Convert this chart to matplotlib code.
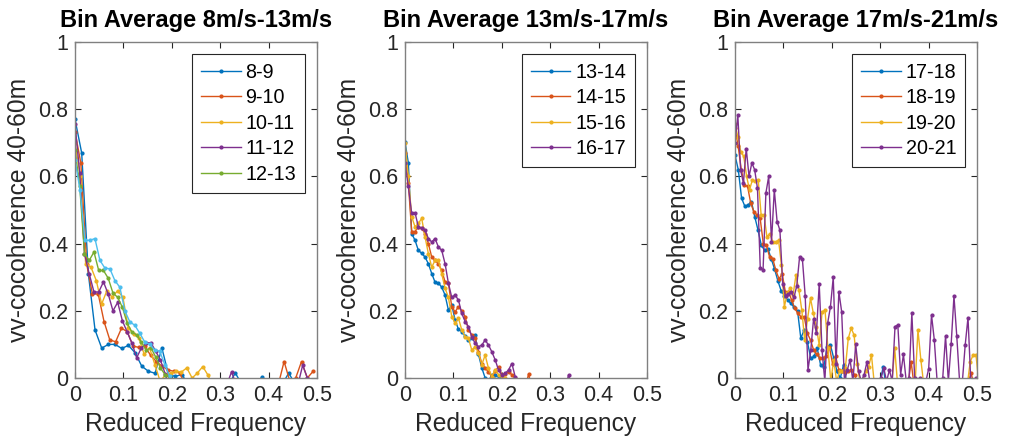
import matplotlib
matplotlib.use('Agg')
import matplotlib.pyplot as plt
import numpy as np
from matplotlib.ticker import MultipleLocator, FormatStrFormatter

plt.rcParams['font.family'] = ['Liberation Sans', 'DejaVu Sans']

# matlab default line colours
colors = ['#0072BD', '#D95319', '#EDB120', '#7E2F8E', '#77AC30', '#4DBEEE']

# ---- panel 1 : 8-13 m/s ----
step_8_9 = 0.0138
coh_8_9 = [0.77, 0.67, 0.31, 0.143, 0.089, 0.10, 0.10, 0.088, 0.097, 0.075, 0.035, 0.02,
           0.014, 0.09, 0.01, 0.005, 0.01, -0.02, -0.03, -0.03, -0.03, -0.03, -0.03, -0.02,
           0.015, -0.02, -0.03, -0.02, 0.003, -0.02, -0.03, -0.02, 0.015, -0.02, -0.03, -0.03, -0.03]
step_9_10 = 0.012
coh_9_10 = [0.733, 0.64, 0.34, 0.25, 0.25, 0.168, 0.113, 0.108, 0.148, 0.138, 0.095, 0.091,
            0.095, 0.068, 0.049, 0.035, 0.024, 0.02, 0.015, -0.02, -0.03, -0.03, -0.03, -0.03,
            -0.03, -0.03, -0.03, -0.03, -0.03, -0.03, -0.03, -0.03, -0.03, -0.03, -0.03, -0.02,
            0.049, -0.01, 0.0, 0.049, 0.0, 0.02]
step_10_11 = 0.011
coh_10_11 = [0.70, 0.60, 0.34, 0.33, 0.29, 0.22, 0.26, 0.24, 0.26, 0.24, 0.15, 0.13, 0.12,
             0.07, 0.09, 0.04, -0.01, 0.01, 0.015, 0.02, 0.018, 0.03, 0.0, 0.015, 0.034, 0.008, -0.03]
step_11_12 = 0.0098
coh_11_12 = [0.755, 0.61, 0.37, 0.31, 0.256, 0.256, 0.286, 0.25, 0.20, 0.225, 0.17, 0.137,
             0.104, 0.06, 0.09, 0.104, 0.105, 0.08, 0.054, 0.013, -0.03, -0.03, -0.03, -0.03,
             -0.03, -0.03, -0.03, -0.03, -0.03, -0.03, -0.03, -0.03, -0.02, 0.018, -0.02, -0.03,
             -0.03, -0.03, -0.03, -0.03, -0.03, -0.03, -0.03, -0.03, -0.03, -0.03, -0.03, -0.02,
             0.038, 0.0, -0.02]
step_12_13 = 0.0098
coh_12_13 = [0.68, 0.57, 0.37, 0.35, 0.375, 0.32, 0.32, 0.297, 0.253, 0.24, 0.21, 0.163,
             0.137, 0.128, 0.107, 0.083, 0.09, 0.063, 0.03, 0.01, 0.0, -0.03]
step_13_14a = 0.0103
coh_13_14a = [0.65, 0.56, 0.41, 0.41, 0.415, 0.35, 0.327, 0.325, 0.29, 0.27, 0.20, 0.167,
              0.157, 0.133, 0.107, 0.10, 0.083, 0.08, 0.04, 0.005, -0.03]

# ---- panel 2 : 13-17 m/s ----
step_p2 = 0.0069
coh_13_14 = [0.703, 0.64, 0.43, 0.41, 0.38, 0.371, 0.36, 0.34, 0.311, 0.285, 0.283, 0.27,
             0.247, 0.202, 0.217, 0.173, 0.145, 0.138, 0.125, 0.113, 0.118, 0.128, 0.07, 0.03,
             0.0, -0.01, 0.01, 0.009, 0.004, -0.03]
coh_14_15 = [0.67, 0.58, 0.436, 0.436, 0.45, 0.445, 0.43, 0.40, 0.36, 0.35, 0.34, 0.32,
             0.286, 0.282, 0.212, 0.197, 0.212, 0.20, 0.183, 0.143, 0.128, 0.118, 0.078, 0.043,
             0.03, 0.018, 0.004, 0.02, 0.034, 0.01, 0.012, 0.018, 0.01, 0.0, -0.03, -0.03, -0.03,
             0.012, -0.03]
coh_15_16 = [0.70, 0.60, 0.48, 0.45, 0.46, 0.475, 0.42, 0.37, 0.33, 0.35, 0.35, 0.31, 0.267,
             0.24, 0.183, 0.163, 0.178, 0.143, 0.123, 0.118, 0.083, 0.093, 0.075, 0.04, 0.068,
             0.029, 0.004, 0.025, 0.01, 0.005, 0.0, -0.03]
coh_16_17 = [0.64, 0.57, 0.49, 0.492, 0.45, 0.445, 0.44, 0.415, 0.405, 0.415, 0.39, 0.38,
             0.34, 0.282, 0.24, 0.247, 0.232, 0.192, 0.168, 0.153, 0.123, 0.103, 0.093, 0.098,
             0.113, 0.098, 0.078, 0.054, 0.024, 0.009, 0.014, 0.024, 0.043, 0.004, -0.03, -0.03,
             -0.03, -0.03, -0.03, -0.03, -0.03, -0.03, -0.03, -0.03, -0.03, -0.03, -0.03, -0.03,
             -0.03, 0.01, -0.03]

# ---- panel 3 : 17-21 m/s ----
step_17_18 = 0.0068
coh_17_18 = [0.663, 0.62, 0.535, 0.511, 0.515, 0.525, 0.48, 0.44, 0.395, 0.38, 0.385, 0.355,
             0.325, 0.29, 0.26, 0.245, 0.232, 0.222, 0.21, 0.20, 0.118, 0.143, 0.108, 0.059,
             0.064, 0.088, 0.039, 0.034, 0.093, 0.098, 0.059, 0.02, 0.0, 0.04, -0.02, -0.03,
             -0.03, -0.03, -0.03, -0.03, -0.03, -0.03, -0.03, -0.03, -0.02, 0.034, -0.03]
step_18_19 = 0.0065
coh_18_19 = [0.743, 0.69, 0.62, 0.575, 0.57, 0.52, 0.495, 0.485, 0.475, 0.40, 0.395, 0.36,
             0.355, 0.32, 0.295, 0.31, 0.257, 0.257, 0.232, 0.207, 0.192, 0.182, 0.182, 0.133,
             0.113, 0.083, 0.07, 0.059, 0.06, 0.064, 0.093, 0.043, 0.064, 0.024, 0.02, 0.019,
             0.02, 0.024, 0.01, -0.02, -0.03, -0.03, -0.03, -0.03, -0.03, -0.03, -0.03, -0.03,
             -0.03, -0.03, -0.03, -0.03, -0.03, -0.03, -0.03, -0.02, 0.048, -0.03, -0.03, -0.03,
             -0.03, -0.03, -0.03, -0.03, -0.03, -0.03, -0.03, -0.03, -0.03, -0.03, -0.03, -0.03,
             -0.03, -0.03, -0.02, 0.015, -0.02]
step_19_20 = 0.006
coh_19_20 = [0.755, 0.718, 0.673, 0.66, 0.60, 0.56, 0.59, 0.585, 0.59, 0.485, 0.485, 0.42,
             0.43, 0.405, 0.405, 0.41, 0.336, 0.212, 0.252, 0.267, 0.247, 0.307, 0.262, 0.202,
             0.113, 0.177, 0.237, 0.192, 0.153, 0.098, 0.197, 0.202, 0.088, -0.01, 0.054, -0.01,
             0.02, 0.02, 0.03, 0.118, 0.148, 0.128, 0.043, -0.01, -0.01, 0.02, 0.034, 0.068,
             -0.02, -0.02, -0.02, -0.02, -0.02, -0.02, -0.02, 0.088, -0.02, -0.02, -0.02, -0.02,
             -0.02, -0.02, -0.02, 0.143, 0.054, -0.02, -0.02, -0.02, -0.02, -0.02, -0.02, -0.02,
             -0.02, -0.02, -0.02, -0.02, -0.02, -0.02, -0.02, -0.02, -0.02, 0.049, 0.068, 0.068,
             -0.02]
step_20_21 = 0.0058
coh_20_21 = [0.70, 0.783, 0.62, 0.58, 0.683, 0.60, 0.64, 0.62, 0.565, 0.327, 0.322, 0.55,
             0.60, 0.405, 0.56, 0.465, 0.44, 0.28, 0.245, 0.25, 0.255, 0.24, 0.274, 0.36, 0.355,
             0.245, 0.024, 0.083, 0.177, 0.133, 0.28, 0.083, -0.01, 0.163, 0.212, 0.30, 0.043,
             0.257, 0.197, -0.01, 0.024, 0.054, -0.01, 0.10, 0.02, -0.01, 0.01, 0.048, -0.01,
             -0.01, -0.01, -0.01, 0.0, 0.03, -0.01, 0.024, -0.01, 0.153, 0.158, 0.01, 0.07,
             -0.01, 0.0, 0.193, 0.0, -0.01, 0.0, -0.01, -0.01, 0.028, 0.188, 0.113, -0.01,
             -0.01, 0.0, 0.125, -0.01, 0.10, 0.244, 0.125, -0.01, -0.01, 0.098, 0.18, -0.01,
             -0.01, 0.0]

panels = [
    ('Bin Average 8m/s-13m/s',
     [('8-9', step_8_9, coh_8_9), ('9-10', step_9_10, coh_9_10),
      ('10-11', step_10_11, coh_10_11), ('11-12', step_11_12, coh_11_12),
      ('12-13', step_12_13, coh_12_13), (None, step_13_14a, coh_13_14a)]),
    ('Bin Average 13m/s-17m/s',
     [('13-14', step_p2, coh_13_14), ('14-15', step_p2, coh_14_15),
      ('15-16', step_p2, coh_15_16), ('16-17', step_p2, coh_16_17)]),
    ('Bin Average 17m/s-21m/s',
     [('17-18', step_17_18, coh_17_18), ('18-19', step_18_19, coh_18_19),
      ('19-20', step_19_20, coh_19_20), ('20-21', step_20_21, coh_20_21)]),
]

fig = plt.figure(figsize=(10.1, 4.46), dpi=100)
lefts = [75, 405, 735]

for k, (title, series) in enumerate(panels):
    ax = fig.add_axes([lefts[k] / 1010, 68 / 446, 242 / 1010, 336 / 446])
    for j, (lab, step, vals) in enumerate(series):
        x = step * np.arange(len(vals))
        ax.plot(x, vals, '.-', color=colors[j], lw=1.0, ms=4, label=lab)
    ax.set_xlim(0, 0.5)
    ax.set_ylim(0, 1)
    ax.xaxis.set_major_locator(MultipleLocator(0.1))
    ax.yaxis.set_major_locator(MultipleLocator(0.2))
    ax.xaxis.set_major_formatter(FormatStrFormatter('%g'))
    ax.yaxis.set_major_formatter(FormatStrFormatter('%g'))
    ax.tick_params(direction='in', top=True, right=True, length=4, width=0.8,
                   color='#262626', labelcolor='#262626', labelsize=15.5, pad=5)
    for s in ax.spines.values():
        s.set_color('#808080')
        s.set_linewidth(1.0)
    ax.set_xlabel('Reduced Frequency', fontsize=17.7, color='#262626', labelpad=4)
    ax.set_ylabel('vv-cocoherence 40-60m', fontsize=17.7, color='#262626', labelpad=5)
    ax.set_title(title, fontsize=17, fontweight='bold', color='#000000', pad=11)
    handles, labels = ax.get_legend_handles_labels()
    leg = ax.legend(handles, labels, loc='upper right', fontsize=14.2, numpoints=1,
                    handlelength=2.0, handletextpad=0.25, labelspacing=0.33,
                    borderaxespad=0.6, borderpad=0.45, fancybox=False, framealpha=1)
    leg.get_frame().set_edgecolor('#262626')
    leg.get_frame().set_linewidth(0.8)

fig.savefig('out.png', dpi=100)
